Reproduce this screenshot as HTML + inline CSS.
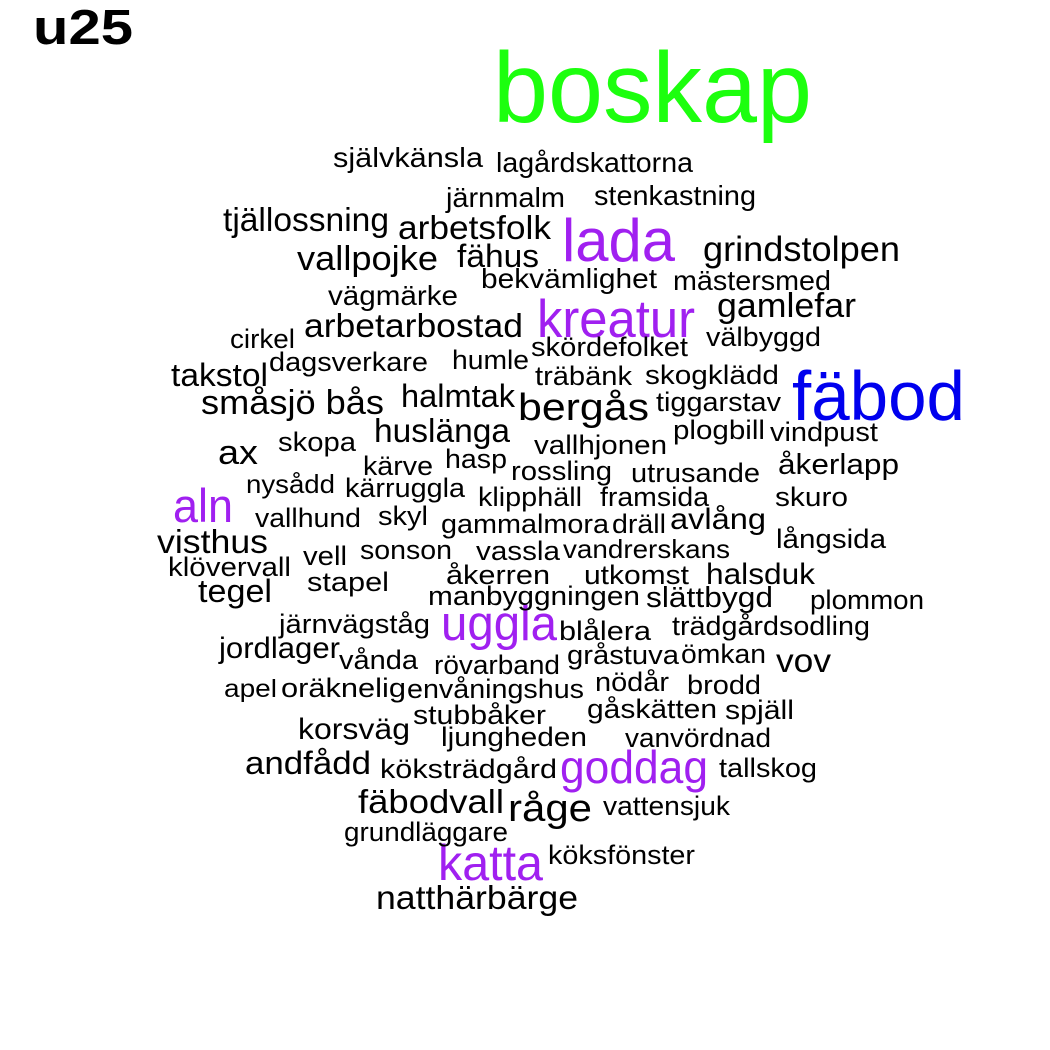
<!DOCTYPE html>
<html><head><meta charset="utf-8"><style>
html,body{margin:0;padding:0;background:#fff;}
svg{display:block;font-family:"Liberation Sans",Arial,sans-serif;}
</style></head><body>
<svg id="cloud" width="1050" height="1050" viewBox="0 0 1050 1050">
<text x="33" y="44" font-size="49" font-weight="bold" textLength="100" lengthAdjust="spacingAndGlyphs">u25</text>
</svg>
<script>
// word, left x, right x, baseline y, font size, color key
const words = ["boskap","fäbod","lada","kreatur","uggla","goddag","katta","aln",
"självkänsla","lagårdskattorna","järnmalm","stenkastning","tjällossning","arbetsfolk","grindstolpen","vallpojke","fähus","bekvämlighet","mästersmed","vägmärke","gamlefar","arbetarbostad","cirkel","välbyggd","skördefolket","dagsverkare","humle","takstol","träbänk","skogklädd","småsjö bås","halmtak","bergås","tiggarstav","huslänga","plogbill","vindpust","skopa","ax","vallhjonen","hasp","kärve","rossling","utrusande","åkerlapp","nysådd","kärruggla","klipphäll","framsida","skuro","vallhund","skyl","gammalmora","dräll","avlång","visthus","långsida","vell","sonson","vassla","vandrerskans","klövervall","åkerren","utkomst","halsduk","stapel","tegel","manbyggningen","slättbygd","plommon","järnvägståg","blålera","trädgårdsodling","jordlager","vånda","rövarband","gråstuva","ömkan","vov","apel","oräknelig","envåningshus","nödår","brodd","stubbåker","gåskätten","spjäll","korsväg","ljungheden","vanvördnad","andfådd","köksträdgård","tallskog","fäbodvall","råge","vattensjuk","grundläggare","köksfönster","natthärbärge"];
const x0 = [493,792,562,537,441,560,438,173,333,496,446,594,223,398,703,297,457,481,673,328,717,304,230,706,531,269,452,171,535,645,201,401,518,656,374,673,770,278,218,534,445,363,511,631,778,246,345,478,600,775,255,378,441,612,670,157,776,303,360,476,563,168,446,584,706,307,198,428,646,810,279,559,672,219,339,434,567,681,776,224,281,407,595,687,413,587,725,298,441,625,245,380,719,358,508,603,344,548,376];
const x1 = [812,965,675,695,557,708,543,233,483,693,565,756,389,551,900,438,539,657,831,458,856,523,295,821,688,428,529,268,632,779,384,515,649,781,510,765,878,356,258,667,507,433,612,760,899,335,465,582,709,848,361,428,609,666,766,268,886,347,452,560,730,291,550,689,815,389,272,640,773,924,430,651,870,340,418,560,679,766,831,277,406,584,669,761,546,717,794,410,587,771,371,557,817,504,592,730,508,695,578];
const base = [122,420,261,337,640,783,880,522,167,172,207,205,231,239,261,270,267,288,290,305,317,337,348,346,356,371,369,386,385,384,414,407,420,411,442,439,441,451,464,454,468,475,480,482,474,493,497,506,506,506,527,525,533,533,529,553,548,565,559,560,558,576,584,584,584,591,602,605,607,609,633,640,635,658,669,674,664,663,672,697,697,698,691,694,724,718,719,739,746,747,774,778,777,813,821,815,841,864,909];
const sizes = [100,70,60,53,49,46,50,47,28,28,28,28,33,33,35,34,32,28,28,28,34,33,27,27,27,27,27,32,27,27,34,32,38,27,33,27,27,27,34,27,27,27,27,27,29,26,27,27,27,27,27,27,27,27,30,33,27,27,27,27,26,27,27,27,30,27,32,27,29,27,27,27,27,30,27,27,27,27,33,25,27,27,27,27,27,27,27,30,27,27,32,27,27,33,38,27,27,27,33];
const colorKeys = ["g","b","p","p","p","p","p","p"];
const palette = {g:"#1cff0e",b:"#0000ee",p:"#a020f0"};
const svg = document.getElementById('cloud');
const NS = "http://www.w3.org/2000/svg";
words.forEach((w,i)=>{
  const t = document.createElementNS(NS,'text');
  
  
  t.setAttribute('x', x0[i]);
  t.setAttribute('y', base[i]);
  t.setAttribute('font-size', sizes[i]);
  t.setAttribute('fill', palette[colorKeys[i]] || '#000');
  t.setAttribute('textLength', x1[i]-x0[i]);
  t.setAttribute('lengthAdjust', 'spacingAndGlyphs');
  t.textContent = w;
  svg.appendChild(t);
});
</script>
</body></html>
